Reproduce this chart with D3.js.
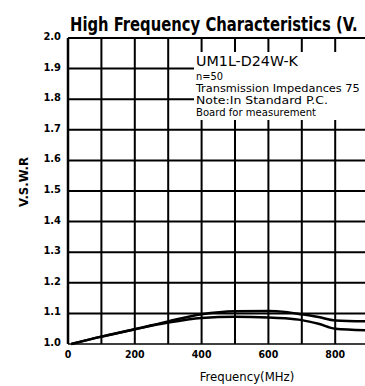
<!DOCTYPE html>
<html><head><meta charset="utf-8">
<script src="https://cdn.jsdelivr.net/npm/d3@7"></script>
<style>body{margin:0;background:#fff}svg{display:block}</style>
</head><body>
<svg id="c" width="365" height="386"></svg>
<script>
const freq = [10, 100, 200, 300, 400, 500, 600, 650, 700, 750, 800, 900];
const vswrUpper = [1.0, 1.024, 1.048, 1.074, 1.097, 1.107, 1.108, 1.105, 1.097, 1.088, 1.077, 1.074];
const vswrLower = [1.0, 1.024, 1.048, 1.070, 1.085, 1.089, 1.087, 1.084, 1.078, 1.066, 1.050, 1.045];
const xTicks = [0, 200, 400, 600, 800];
const xGrid = [0, 100, 200, 300, 400, 500, 600, 700, 800, 900];
const yTicks = [1.0, 1.1, 1.2, 1.3, 1.4, 1.5, 1.6, 1.7, 1.8, 1.9, 2.0];
const legendLines = ["UM1L-D24W-K", "n=50", "Transmission Impedances 75", "Note:In Standard P.C.", "Board for measurement"];

const svg = d3.select("#c");
const x = d3.scaleLinear().domain([0, 900]).range([68, 368.6]);
const y = d3.scaleLinear().domain([1.0, 2.0]).range([344, 38]);

// grid
const g = svg.append("g");
g.selectAll("line.v").data(xGrid).join("line")
  .attr("x1", d => x(d)).attr("x2", d => x(d))
  .attr("y1", y(2.0)).attr("y2", y(1.0))
  .attr("stroke", "#000").attr("stroke-width", d => d === 0 ? 2.5 : 2);
g.selectAll("line.h").data(yTicks).join("line")
  .attr("x1", x(0)).attr("x2", 365)
  .attr("y1", d => y(d)).attr("y2", d => y(d))
  .attr("stroke", "#000").attr("stroke-width", d => d === 1.0 ? 1.6 : 2);

// legend box (white mask)
svg.append("rect").attr("x", 194).attr("y", 52).attr("width", 180).attr("height", 68).attr("fill", "#fff");
const sizes = [13.5, 11, 10, 10, 10];
const bases = [66, 79.5, 91.5, 103.5, 115.5];
const widths = [102, 27, 164, 132, 120];
legendLines.forEach((t, i) => {
  const el = svg.append("text").attr("x", 0).attr("y", 0)
    .attr("font-family", "'DejaVu Sans Condensed', 'Liberation Sans Narrow', sans-serif")
    .attr("font-size", sizes[i]).attr("fill", "#000")
    .text(t);
  const w = el.node().getComputedTextLength();
  el.attr("transform", `translate(196,${bases[i]}) scale(${widths[i] / w},1)`);
});

// curves
const line = d3.line().x((d, i) => x(freq[i])).y(d => y(d)).curve(d3.curveMonotoneX);
svg.append("path").datum(vswrUpper).attr("d", line).attr("fill", "none").attr("stroke", "#000").attr("stroke-width", 2.5);
svg.append("path").datum(vswrLower).attr("d", line).attr("fill", "none").attr("stroke", "#000").attr("stroke-width", 2.5);

// y tick labels
svg.selectAll("text.yt").data(yTicks).join("text")
  .attr("x", 61).attr("y", d => y(d) + 2)
  .attr("text-anchor", "end")
  .attr("font-family", "'DejaVu Sans Condensed', sans-serif").attr("font-weight", "bold")
  .attr("font-size", 11).text(d => d.toFixed(1));

// x tick labels
svg.selectAll("text.xt").data(xTicks).join("text")
  .attr("x", d => x(d)).attr("y", 358)
  .attr("text-anchor", "middle")
  .attr("font-family", "'DejaVu Sans Condensed', sans-serif").attr("font-weight", "bold")
  .attr("font-size", 10.5).text(d => d);

// axis titles
svg.append("text").attr("x", 247).attr("y", 381).attr("text-anchor", "middle")
  .attr("font-family", "'DejaVu Sans Condensed', sans-serif").attr("font-size", 13).text("Frequency(MHz)");
svg.append("text").attr("transform", "translate(28,182) rotate(-90)").attr("text-anchor", "middle")
  .attr("font-family", "'DejaVu Sans Condensed', sans-serif").attr("font-weight", "bold").attr("font-size", 13).text("V.S.W.R");

// title
const title = svg.append("text").attr("x", 0).attr("y", 0)
  .attr("font-family", "'Liberation Sans Narrow', 'DejaVu Sans Condensed', sans-serif").attr("font-weight", "bold")
  .attr("font-size", 20)
  .text("High Frequency Characteristics (V.");
const tw = title.node().getComputedTextLength();
title.attr("transform", `translate(70,31) scale(${288 / tw},1)`);
</script>
</body></html>
